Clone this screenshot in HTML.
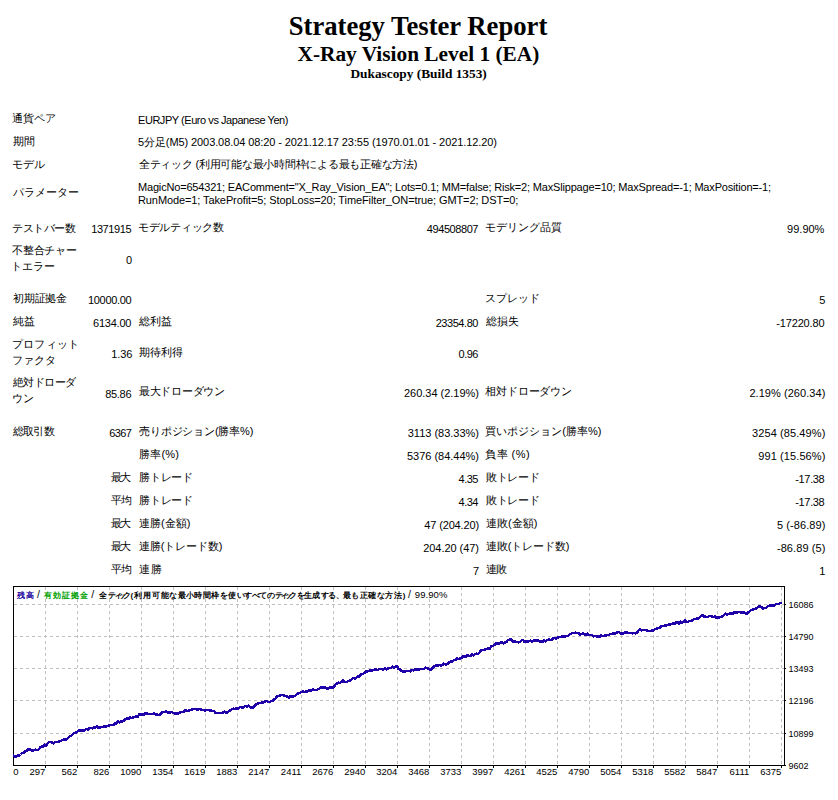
<!DOCTYPE html>
<html><head><meta charset="utf-8"><title>Strategy Tester Report</title>
<style>
html,body{margin:0;padding:0;background:#fff;}
body{width:838px;height:800px;position:relative;overflow:hidden;font-family:"Liberation Sans",sans-serif;color:#000;font-feature-settings:"palt";}
.t{position:absolute;white-space:nowrap;font-size:11px;line-height:13px;}
.h{position:absolute;left:0;width:838px;text-align:center;font-family:"Liberation Serif",serif;font-weight:bold;white-space:nowrap;}
svg{position:absolute;left:0;top:0;}
</style></head><body>

<div class="h" style="top:11px;left:-1px;font-size:26.67px;line-height:30px">Strategy Tester Report</div>
<div class="h" style="top:42px;left:-0.6px;font-size:21.33px;line-height:24px">X-Ray Vision Level 1 (EA)</div>
<div class="h" style="top:66px;left:-0.4px;font-size:13.33px;line-height:15px">Dukascopy (Build 1353)</div>
<div class="t" id="i0" style="top:112px;left:12.00px;">通貨ペア</div>
<div class="t" id="i1" style="top:114px;left:138.00px;letter-spacing:-0.450px;">EURJPY (Euro vs Japanese Yen)</div>
<div class="t" id="i2" style="top:135px;left:13.00px;">期間</div>
<div class="t" id="i3" style="top:136px;left:138.00px;letter-spacing:-0.091px;">5分足(M5) 2003.08.04 08:20 - 2021.12.17 23:55 (1970.01.01 - 2021.12.20)</div>
<div class="t" id="i4" style="top:158px;left:12.00px;">モデル</div>
<div class="t" id="i5" style="top:158px;left:139.00px;letter-spacing:-0.259px;">全ティック (利用可能な最小時間枠による最も正確な方法)</div>
<div class="t" id="i6" style="top:186px;left:13.00px;">パラメーター</div>
<div class="t" id="i7" style="top:181px;left:138.00px;letter-spacing:-0.178px;">MagicNo=654321; EAComment=&quot;X_Ray_Vision_EA&quot;; Lots=0.1; MM=false; Risk=2; MaxSlippage=10; MaxSpread=-1; MaxPosition=-1;</div>
<div class="t" id="i8" style="top:194px;left:138.00px;letter-spacing:-0.100px;">RunMode=1; TakeProfit=5; StopLoss=20; TimeFilter_ON=true; GMT=2; DST=0;</div>
<div class="t" id="i9" style="top:222px;left:12.00px;letter-spacing:-0.400px;">テストバー数</div>
<div class="t" id="i10" style="top:223px;right:706.80px;letter-spacing:-0.402px;">1371915</div>
<div class="t" id="i11" style="top:221px;left:138.00px;letter-spacing:-0.286px;">モデルティック数</div>
<div class="t" id="i12" style="top:223px;right:360.00px;letter-spacing:-0.432px;">494508807</div>
<div class="t" id="i13" style="top:221px;left:485.00px;">モデリング品質</div>
<div class="t" id="i14" style="top:223px;right:13.60px;">99.90%</div>
<div class="t" id="i15" style="top:244px;left:12.00px;letter-spacing:-0.200px;">不整合チャー</div>
<div class="t" id="i16" style="top:260px;left:11.20px;">トエラー</div>
<div class="t" id="i17" style="top:254px;right:705.80px;">0</div>
<div class="t" id="i18" style="top:292px;left:13.00px;letter-spacing:-0.250px;">初期証拠金</div>
<div class="t" id="i19" style="top:294px;right:706.80px;letter-spacing:-0.341px;">10000.00</div>
<div class="t" id="i20" style="top:292px;left:485.00px;letter-spacing:-0.125px;">スプレッド</div>
<div class="t" id="i21" style="top:294px;right:12.60px;">5</div>
<div class="t" id="i22" style="top:315px;left:13.00px;">純益</div>
<div class="t" id="i23" style="top:317px;right:706.80px;letter-spacing:-0.235px;">6134.00</div>
<div class="t" id="i24" style="top:315px;left:139.00px;">総利益</div>
<div class="t" id="i25" style="top:317px;right:360.00px;letter-spacing:-0.440px;">23354.80</div>
<div class="t" id="i26" style="top:315px;left:486.00px;">総損失</div>
<div class="t" id="i27" style="top:317px;right:13.60px;letter-spacing:-0.157px;">-17220.80</div>
<div class="t" id="i28" style="top:338px;left:12.00px;letter-spacing:0.200px;">プロフィット</div>
<div class="t" id="i29" style="top:354px;left:12.00px;">ファクタ</div>
<div class="t" id="i30" style="top:348px;right:705.80px;letter-spacing:-0.131px;">1.36</div>
<div class="t" id="i31" style="top:346px;left:139.00px;">期待利得</div>
<div class="t" id="i32" style="top:348px;right:360.00px;letter-spacing:-0.500px;">0.96</div>
<div class="t" id="i33" style="top:376px;left:13.00px;letter-spacing:-0.600px;">絶対ドローダ</div>
<div class="t" id="i34" style="top:392px;left:12.00px;">ウン</div>
<div class="t" id="i35" style="top:388px;right:706.80px;letter-spacing:-0.300px;">85.86</div>
<div class="t" id="i36" style="top:385px;left:139.00px;letter-spacing:-0.286px;">最大ドローダウン</div>
<div class="t" id="i37" style="top:387px;right:359.00px;letter-spacing:-0.011px;">260.34 (2.19%)</div>
<div class="t" id="i38" style="top:385px;left:485.00px;letter-spacing:-0.111px;">相対ドローダウン</div>
<div class="t" id="i39" style="top:387px;right:12.60px;letter-spacing:0.055px;">2.19% (260.34)</div>
<div class="t" id="i40" style="top:425px;left:13.00px;letter-spacing:-0.798px;">総取引数</div>
<div class="t" id="i41" style="top:427px;right:706.80px;letter-spacing:-0.635px;">6367</div>
<div class="t" id="i42" style="top:425px;left:139.00px;letter-spacing:-0.158px;">売りポジション(勝率%)</div>
<div class="t" id="i43" style="top:427px;right:359.00px;letter-spacing:-0.007px;">3113 (83.33%)</div>
<div class="t" id="i44" style="top:425px;left:485.00px;letter-spacing:0.024px;">買いポジション(勝率%)</div>
<div class="t" id="i45" style="top:427px;right:12.60px;letter-spacing:0.090px;">3254 (85.49%)</div>
<div class="t" id="i46" style="top:448px;left:139.00px;letter-spacing:0.225px;">勝率(%)</div>
<div class="t" id="i47" style="top:450px;right:359.00px;letter-spacing:-0.007px;">5376 (84.44%)</div>
<div class="t" id="i48" style="top:448px;left:485.00px;letter-spacing:0.500px;">負率 (%)</div>
<div class="t" id="i49" style="top:450px;right:12.60px;letter-spacing:0.083px;">991 (15.56%)</div>
<div class="t" id="i50" style="top:471px;right:708.80px;letter-spacing:-2.000px;">最大</div>
<div class="t" id="i51" style="top:471px;left:139.00px;letter-spacing:-0.250px;">勝トレード</div>
<div class="t" id="i52" style="top:473px;right:360.00px;letter-spacing:-0.500px;">4.35</div>
<div class="t" id="i53" style="top:471px;left:486.00px;letter-spacing:-0.375px;">敗トレード</div>
<div class="t" id="i54" style="top:473px;right:13.60px;letter-spacing:-0.340px;">-17.38</div>
<div class="t" id="i55" style="top:494px;right:706.80px;letter-spacing:-1.000px;">平均</div>
<div class="t" id="i56" style="top:494px;left:139.00px;letter-spacing:-0.250px;">勝トレード</div>
<div class="t" id="i57" style="top:496px;right:360.00px;letter-spacing:-0.500px;">4.34</div>
<div class="t" id="i58" style="top:494px;left:486.00px;letter-spacing:-0.375px;">敗トレード</div>
<div class="t" id="i59" style="top:496px;right:13.60px;letter-spacing:-0.340px;">-17.38</div>
<div class="t" id="i60" style="top:517px;right:708.80px;letter-spacing:-2.000px;">最大</div>
<div class="t" id="i61" style="top:517px;left:139.00px;">連勝(金額)</div>
<div class="t" id="i62" style="top:519px;right:359.00px;letter-spacing:-0.140px;">47 (204.20)</div>
<div class="t" id="i63" style="top:517px;left:486.00px;letter-spacing:0.020px;">連敗(金額)</div>
<div class="t" id="i64" style="top:519px;right:12.60px;letter-spacing:0.081px;">5 (-86.89)</div>
<div class="t" id="i65" style="top:540px;right:708.80px;letter-spacing:-2.000px;">最大</div>
<div class="t" id="i66" style="top:540px;left:139.00px;letter-spacing:-0.125px;">連勝(トレード数)</div>
<div class="t" id="i67" style="top:542px;right:359.00px;letter-spacing:-0.040px;">204.20 (47)</div>
<div class="t" id="i68" style="top:540px;left:486.00px;letter-spacing:-0.125px;">連敗(トレード数)</div>
<div class="t" id="i69" style="top:542px;right:12.60px;letter-spacing:0.081px;">-86.89 (5)</div>
<div class="t" id="i70" style="top:563px;right:706.80px;letter-spacing:-1.000px;">平均</div>
<div class="t" id="i71" style="top:563px;left:139.00px;letter-spacing:0.600px;">連勝</div>
<div class="t" id="i72" style="top:565px;right:359.00px;">7</div>
<div class="t" id="i73" style="top:563px;left:486.00px;letter-spacing:-0.700px;">連敗</div>
<div class="t" id="i74" style="top:565px;right:12.60px;">1</div>
<svg width="838" height="800" viewBox="0 0 838 800" style="font-family:'Liberation Sans',sans-serif">
<g shape-rendering="crispEdges">
<path d="M14 604.5H784" stroke="#c0c0c0" stroke-width="1" stroke-dasharray="3 3" stroke-dashoffset="0"/>
<path d="M14 636.5H784" stroke="#c0c0c0" stroke-width="1" stroke-dasharray="3 3" stroke-dashoffset="0"/>
<path d="M14 668.5H784" stroke="#c0c0c0" stroke-width="1" stroke-dasharray="3 3" stroke-dashoffset="0"/>
<path d="M14 700.5H784" stroke="#c0c0c0" stroke-width="1" stroke-dasharray="3 3" stroke-dashoffset="0"/>
<path d="M14 733.5H784" stroke="#c0c0c0" stroke-width="1" stroke-dasharray="3 3" stroke-dashoffset="0"/>
<path d="M45.5 587V765" stroke="#c0c0c0" stroke-width="1" stroke-dasharray="3 3" stroke-dashoffset="0"/>
<path d="M77.5 587V765" stroke="#c0c0c0" stroke-width="1" stroke-dasharray="3 3" stroke-dashoffset="0"/>
<path d="M109.5 587V765" stroke="#c0c0c0" stroke-width="1" stroke-dasharray="3 3" stroke-dashoffset="0"/>
<path d="M141.5 587V765" stroke="#c0c0c0" stroke-width="1" stroke-dasharray="3 3" stroke-dashoffset="0"/>
<path d="M173.5 587V765" stroke="#c0c0c0" stroke-width="1" stroke-dasharray="3 3" stroke-dashoffset="0"/>
<path d="M205.5 587V765" stroke="#c0c0c0" stroke-width="1" stroke-dasharray="3 3" stroke-dashoffset="0"/>
<path d="M237.5 587V765" stroke="#c0c0c0" stroke-width="1" stroke-dasharray="3 3" stroke-dashoffset="0"/>
<path d="M269.5 587V765" stroke="#c0c0c0" stroke-width="1" stroke-dasharray="3 3" stroke-dashoffset="0"/>
<path d="M301.5 587V765" stroke="#c0c0c0" stroke-width="1" stroke-dasharray="3 3" stroke-dashoffset="0"/>
<path d="M333.5 587V765" stroke="#c0c0c0" stroke-width="1" stroke-dasharray="3 3" stroke-dashoffset="0"/>
<path d="M365.5 587V765" stroke="#c0c0c0" stroke-width="1" stroke-dasharray="3 3" stroke-dashoffset="0"/>
<path d="M397.5 587V765" stroke="#c0c0c0" stroke-width="1" stroke-dasharray="3 3" stroke-dashoffset="0"/>
<path d="M429.5 587V765" stroke="#c0c0c0" stroke-width="1" stroke-dasharray="3 3" stroke-dashoffset="0"/>
<path d="M461.5 587V765" stroke="#c0c0c0" stroke-width="1" stroke-dasharray="3 3" stroke-dashoffset="0"/>
<path d="M493.5 587V765" stroke="#c0c0c0" stroke-width="1" stroke-dasharray="3 3" stroke-dashoffset="0"/>
<path d="M525.5 587V765" stroke="#c0c0c0" stroke-width="1" stroke-dasharray="3 3" stroke-dashoffset="0"/>
<path d="M557.5 587V765" stroke="#c0c0c0" stroke-width="1" stroke-dasharray="3 3" stroke-dashoffset="0"/>
<path d="M589.5 587V765" stroke="#c0c0c0" stroke-width="1" stroke-dasharray="3 3" stroke-dashoffset="0"/>
<path d="M621.5 587V765" stroke="#c0c0c0" stroke-width="1" stroke-dasharray="3 3" stroke-dashoffset="0"/>
<path d="M653.5 587V765" stroke="#c0c0c0" stroke-width="1" stroke-dasharray="3 3" stroke-dashoffset="0"/>
<path d="M685.5 587V765" stroke="#c0c0c0" stroke-width="1" stroke-dasharray="3 3" stroke-dashoffset="0"/>
<path d="M717.5 587V765" stroke="#c0c0c0" stroke-width="1" stroke-dasharray="3 3" stroke-dashoffset="0"/>
<path d="M749.5 587V765" stroke="#c0c0c0" stroke-width="1" stroke-dasharray="3 3" stroke-dashoffset="0"/>
<path d="M781.5 587V765" stroke="#c0c0c0" stroke-width="1" stroke-dasharray="3 3" stroke-dashoffset="0"/>
<path d="M13.5 586.5H784.5V765.5H13.5Z" fill="none" stroke="#000" stroke-width="1"/>
<path d="M785 604.5H786" stroke="#000"/>
<path d="M785 636.5H786" stroke="#000"/>
<path d="M785 668.5H786" stroke="#000"/>
<path d="M785 700.5H786" stroke="#000"/>
<path d="M785 733.5H786" stroke="#000"/>
<path d="M785 765.5H786" stroke="#000"/>
<path d="M45.5 766V768" stroke="#000"/>
<path d="M77.5 766V768" stroke="#000"/>
<path d="M109.5 766V768" stroke="#000"/>
<path d="M141.5 766V768" stroke="#000"/>
<path d="M173.5 766V768" stroke="#000"/>
<path d="M205.5 766V768" stroke="#000"/>
<path d="M237.5 766V768" stroke="#000"/>
<path d="M269.5 766V768" stroke="#000"/>
<path d="M301.5 766V768" stroke="#000"/>
<path d="M333.5 766V768" stroke="#000"/>
<path d="M365.5 766V768" stroke="#000"/>
<path d="M397.5 766V768" stroke="#000"/>
<path d="M429.5 766V768" stroke="#000"/>
<path d="M461.5 766V768" stroke="#000"/>
<path d="M493.5 766V768" stroke="#000"/>
<path d="M525.5 766V768" stroke="#000"/>
<path d="M557.5 766V768" stroke="#000"/>
<path d="M589.5 766V768" stroke="#000"/>
<path d="M621.5 766V768" stroke="#000"/>
<path d="M653.5 766V768" stroke="#000"/>
<path d="M685.5 766V768" stroke="#000"/>
<path d="M717.5 766V768" stroke="#000"/>
<path d="M749.5 766V768" stroke="#000"/>
<path d="M781.5 766V768" stroke="#000"/>
</g>
<path d="M13.0 755.6 L14.5 755.8 L16.0 757.3 L17.5 755.4 L19.0 755.7 L20.5 754.5 L22.0 753.0 L23.5 753.0 L25.0 751.2 L26.5 751.0 L28.0 749.4 L29.5 749.1 L31.0 749.9 L32.5 750.9 L34.0 750.1 L35.5 749.7 L37.0 750.0 L38.5 749.5 L40.0 747.7 L41.5 746.4 L43.0 746.9 L44.5 744.5 L46.0 745.6 L47.5 743.5 L49.0 742.1 L50.5 741.9 L52.0 742.4 L53.5 743.4 L55.0 741.8 L56.5 742.2 L58.0 742.0 L59.5 741.1 L61.0 741.1 L62.5 739.8 L64.0 739.5 L65.5 739.4 L67.0 739.2 L68.5 737.6 L70.0 736.2 L71.5 735.6 L73.0 734.2 L74.5 732.8 L76.0 732.6 L77.5 731.4 L79.0 730.2 L80.5 730.6 L82.0 730.2 L83.5 730.6 L85.0 730.1 L86.5 728.8 L88.0 729.9 L89.5 727.8 L91.0 728.0 L92.5 728.4 L94.0 727.1 L95.5 727.6 L97.0 726.6 L98.5 727.7 L100.0 727.7 L101.5 727.0 L103.0 727.3 L104.5 725.9 L106.0 726.4 L107.5 726.0 L109.0 725.6 L110.5 724.9 L112.0 725.1 L113.5 724.9 L115.0 723.4 L116.5 723.3 L118.0 721.6 L119.5 722.3 L121.0 721.5 L122.5 721.6 L124.0 720.6 L125.5 718.9 L127.0 718.5 L128.5 718.8 L130.0 717.4 L131.5 718.1 L133.0 717.5 L134.5 717.2 L136.0 716.3 L137.5 716.8 L139.0 714.6 L140.5 714.3 L142.0 714.4 L143.5 715.1 L145.0 713.2 L146.5 713.7 L148.0 713.7 L149.5 714.1 L151.0 713.7 L152.5 714.2 L154.0 713.6 L155.5 714.5 L157.0 714.4 L158.5 715.0 L160.0 714.7 L161.5 712.6 L163.0 712.2 L164.5 711.8 L166.0 711.5 L167.5 712.3 L169.0 712.8 L170.5 712.4 L172.0 712.1 L173.5 713.2 L175.0 713.4 L176.5 713.5 L178.0 713.8 L179.5 712.9 L181.0 712.1 L182.5 711.9 L184.0 711.6 L185.5 709.9 L187.0 711.2 L188.5 710.5 L190.0 710.3 L191.5 709.7 L193.0 708.9 L194.5 709.1 L196.0 708.7 L197.5 710.0 L199.0 709.1 L200.5 709.3 L202.0 709.8 L203.5 709.9 L205.0 710.4 L206.5 709.9 L208.0 709.9 L209.5 710.3 L211.0 710.3 L212.5 711.0 L214.0 710.8 L215.5 713.1 L217.0 713.2 L218.5 712.9 L220.0 713.3 L221.5 713.0 L223.0 712.6 L224.5 711.6 L226.0 712.5 L227.5 712.3 L229.0 710.8 L230.5 710.3 L232.0 709.0 L233.5 708.7 L235.0 708.8 L236.5 708.3 L238.0 709.0 L239.5 707.3 L241.0 706.7 L242.5 708.1 L244.0 706.9 L245.5 705.8 L247.0 706.6 L248.5 705.6 L250.0 706.7 L251.5 707.7 L253.0 707.5 L254.5 706.3 L256.0 704.6 L257.5 704.0 L259.0 702.7 L260.5 703.2 L262.0 702.5 L263.5 702.7 L265.0 701.5 L266.5 700.9 L268.0 701.8 L269.5 701.9 L271.0 701.3 L272.5 700.7 L274.0 699.7 L275.5 698.5 L277.0 696.5 L278.5 696.1 L280.0 695.4 L281.5 694.9 L283.0 695.1 L284.5 695.8 L286.0 696.0 L287.5 697.0 L289.0 697.7 L290.5 696.2 L292.0 696.7 L293.5 696.4 L295.0 695.9 L296.5 694.3 L298.0 693.5 L299.5 692.9 L301.0 692.2 L302.5 691.6 L304.0 691.8 L305.5 691.7 L307.0 691.4 L308.5 690.5 L310.0 690.6 L311.5 690.7 L313.0 689.1 L314.5 690.1 L316.0 690.2 L317.5 689.4 L319.0 688.9 L320.5 687.8 L322.0 686.7 L323.5 688.0 L325.0 687.2 L326.5 688.2 L328.0 688.7 L329.5 687.5 L331.0 687.1 L332.5 687.7 L334.0 686.7 L335.5 684.6 L337.0 683.5 L338.5 682.5 L340.0 683.0 L341.5 681.9 L343.0 680.6 L344.5 682.0 L346.0 682.3 L347.5 681.6 L349.0 680.7 L350.5 680.3 L352.0 678.8 L353.5 677.8 L355.0 678.9 L356.5 677.5 L358.0 676.6 L359.5 676.3 L361.0 674.1 L362.5 673.9 L364.0 673.3 L365.5 671.7 L367.0 671.4 L368.5 671.1 L370.0 670.6 L371.5 671.0 L373.0 669.9 L374.5 669.9 L376.0 668.9 L377.5 670.2 L379.0 668.9 L380.5 669.0 L382.0 669.1 L383.5 669.6 L385.0 668.4 L386.5 669.3 L388.0 668.3 L389.5 668.2 L391.0 668.0 L392.5 666.7 L394.0 667.4 L395.5 666.6 L397.0 666.1 L398.5 668.9 L400.0 669.3 L401.5 671.0 L403.0 671.8 L404.5 671.6 L406.0 671.1 L407.5 671.2 L409.0 671.1 L410.5 671.3 L412.0 669.7 L413.5 670.4 L415.0 669.5 L416.5 669.3 L418.0 670.0 L419.5 669.1 L421.0 668.9 L422.5 668.9 L424.0 668.9 L425.5 667.6 L427.0 668.1 L428.5 668.9 L430.0 670.0 L431.5 669.1 L433.0 667.4 L434.5 666.3 L436.0 665.0 L437.5 665.7 L439.0 665.1 L440.5 665.3 L442.0 665.3 L443.5 663.7 L445.0 664.2 L446.5 664.6 L448.0 663.9 L449.5 662.0 L451.0 661.4 L452.5 661.6 L454.0 660.1 L455.5 659.7 L457.0 658.6 L458.5 659.0 L460.0 658.5 L461.5 658.0 L463.0 656.0 L464.5 656.8 L466.0 656.4 L467.5 655.1 L469.0 656.2 L470.5 656.1 L472.0 654.2 L473.5 655.3 L475.0 653.9 L476.5 653.7 L478.0 653.8 L479.5 652.5 L481.0 650.2 L482.5 650.2 L484.0 650.0 L485.5 649.3 L487.0 648.7 L488.5 648.5 L490.0 648.4 L491.5 646.0 L493.0 646.1 L494.5 644.9 L496.0 643.2 L497.5 643.4 L499.0 643.7 L500.5 643.1 L502.0 641.8 L503.5 643.3 L505.0 642.3 L506.5 642.2 L508.0 639.9 L509.5 639.7 L511.0 639.5 L512.5 641.6 L514.0 641.2 L515.5 641.6 L517.0 642.0 L518.5 642.5 L520.0 641.9 L521.5 640.3 L523.0 640.1 L524.5 641.9 L526.0 641.4 L527.5 641.9 L529.0 641.0 L530.5 640.6 L532.0 641.5 L533.5 640.7 L535.0 639.7 L536.5 641.1 L538.0 640.5 L539.5 641.6 L541.0 641.0 L542.5 642.1 L544.0 640.2 L545.5 641.4 L547.0 640.2 L548.5 639.6 L550.0 639.8 L551.5 640.2 L553.0 638.6 L554.5 638.1 L556.0 638.6 L557.5 637.7 L559.0 637.2 L560.5 637.1 L562.0 636.6 L563.5 636.7 L565.0 636.6 L566.5 635.8 L568.0 636.0 L569.5 634.3 L571.0 633.9 L572.5 632.8 L574.0 633.2 L575.5 632.7 L577.0 633.3 L578.5 632.9 L580.0 634.4 L581.5 634.2 L583.0 633.6 L584.5 634.3 L586.0 635.3 L587.5 633.7 L589.0 635.3 L590.5 634.9 L592.0 635.3 L593.5 636.4 L595.0 635.9 L596.5 636.3 L598.0 636.5 L599.5 636.9 L601.0 635.4 L602.5 636.2 L604.0 635.8 L605.5 635.6 L607.0 635.1 L608.5 635.0 L610.0 634.2 L611.5 633.9 L613.0 633.3 L614.5 634.2 L616.0 632.7 L617.5 632.3 L619.0 632.2 L620.5 633.7 L622.0 633.7 L623.5 633.3 L625.0 632.6 L626.5 632.5 L628.0 632.8 L629.5 633.2 L631.0 632.8 L632.5 633.5 L634.0 632.9 L635.5 633.4 L637.0 632.5 L638.5 630.7 L640.0 629.2 L641.5 630.6 L643.0 629.7 L644.5 630.2 L646.0 629.8 L647.5 631.0 L649.0 631.2 L650.5 631.1 L652.0 630.4 L653.5 630.6 L655.0 629.0 L656.5 628.8 L658.0 627.9 L659.5 627.9 L661.0 626.5 L662.5 625.9 L664.0 625.9 L665.5 625.2 L667.0 625.3 L668.5 624.6 L670.0 624.5 L671.5 623.8 L673.0 623.7 L674.5 623.8 L676.0 622.6 L677.5 622.3 L679.0 623.4 L680.5 621.6 L682.0 622.5 L683.5 622.0 L685.0 620.6 L686.5 621.9 L688.0 621.8 L689.5 621.0 L691.0 620.9 L692.5 620.5 L694.0 618.7 L695.5 619.0 L697.0 618.5 L698.5 618.3 L700.0 616.9 L701.5 615.7 L703.0 615.6 L704.5 616.7 L706.0 616.7 L707.5 617.1 L709.0 616.3 L710.5 616.1 L712.0 616.4 L713.5 617.0 L715.0 616.6 L716.5 618.1 L718.0 617.5 L719.5 617.6 L721.0 616.8 L722.5 616.2 L724.0 615.1 L725.5 613.4 L727.0 614.4 L728.5 614.1 L730.0 613.5 L731.5 613.3 L733.0 613.4 L734.5 612.0 L736.0 613.2 L737.5 612.2 L739.0 611.8 L740.5 612.2 L742.0 613.2 L743.5 612.1 L745.0 613.2 L746.5 613.7 L748.0 612.7 L749.5 611.3 L751.0 610.3 L752.5 609.5 L754.0 609.2 L755.5 608.5 L757.0 608.2 L758.5 606.7 L760.0 606.5 L761.5 607.2 L763.0 608.6 L764.5 608.1 L766.0 608.2 L767.5 606.4 L769.0 605.8 L770.5 605.6 L772.0 605.8 L773.5 605.5 L775.0 605.1 L776.5 603.9 L778.0 604.0 L779.5 603.5 L781.0 603.0 L782.0 602.8" fill="none" stroke="#2000a8" stroke-width="2.5" stroke-linejoin="round" shape-rendering="crispEdges"/>
<g font-size="9.5" fill="#000">
<text x="13.3" y="775">0</text>
<text x="45.3" y="775" text-anchor="end">297</text>
<text x="77.3" y="775" text-anchor="end">562</text>
<text x="109.3" y="775" text-anchor="end">826</text>
<text x="141.3" y="775" text-anchor="end">1090</text>
<text x="173.3" y="775" text-anchor="end">1354</text>
<text x="205.3" y="775" text-anchor="end">1619</text>
<text x="237.3" y="775" text-anchor="end">1883</text>
<text x="269.3" y="775" text-anchor="end">2147</text>
<text x="301.3" y="775" text-anchor="end">2411</text>
<text x="333.3" y="775" text-anchor="end">2676</text>
<text x="365.3" y="775" text-anchor="end">2940</text>
<text x="397.3" y="775" text-anchor="end">3204</text>
<text x="429.3" y="775" text-anchor="end">3468</text>
<text x="461.3" y="775" text-anchor="end">3733</text>
<text x="493.3" y="775" text-anchor="end">3997</text>
<text x="525.3" y="775" text-anchor="end">4261</text>
<text x="557.3" y="775" text-anchor="end">4525</text>
<text x="589.3" y="775" text-anchor="end">4790</text>
<text x="621.3" y="775" text-anchor="end">5054</text>
<text x="653.3" y="775" text-anchor="end">5318</text>
<text x="685.3" y="775" text-anchor="end">5582</text>
<text x="717.3" y="775" text-anchor="end">5847</text>
<text x="749.3" y="775" text-anchor="end">6111</text>
<text x="781.3" y="775" text-anchor="end">6375</text>
<text x="788.6" y="607.8" font-size="9">16086</text>
<text x="788.6" y="639.8" font-size="9">14790</text>
<text x="788.6" y="671.8" font-size="9">13493</text>
<text x="788.6" y="703.8" font-size="9">12196</text>
<text x="788.6" y="736.8" font-size="9">10899</text>
<text x="788.6" y="768.8" font-size="9">9602</text>
</g>
<text x="16.8 25.6" y="598" font-size="8" font-weight="bold" fill="#2000a0">残高</text>
<text x="37" y="598" font-size="10.5">/</text>
<text x="43.6 52.6 61.6 70.6 79.6" y="598" font-size="8" font-weight="bold" fill="#00a000">有効証拠金</text>
<text x="91.2" y="598" font-size="10.5">/</text>
<text x="98.6 107.7 113.8 118.2 123.4 130.6 133.5 143.0 152.1 160.7 168.8 177.7 186.3 194.4 202.5 211.1 220.2 227.8 237.4 244.1 251.8 258.9 266.5 274.6 280.4 284.2 289.0 297.1 304.2 312.1 321.0 328.2 336.3 343.0 351.1 359.7 368.3 376.8 385.0 393.6 402.7" y="598" font-size="8" font-weight="bold" fill="#000">全ティック(利用可能な最小時間枠を使いすべてのティックを生成する、最も正確な方法)</text>
<text x="408" y="598" font-size="10.5">/</text>
<text x="414.8" y="598" font-size="9.5" textLength="32.6" lengthAdjust="spacing">99.90%</text>
</svg>
</body></html>
